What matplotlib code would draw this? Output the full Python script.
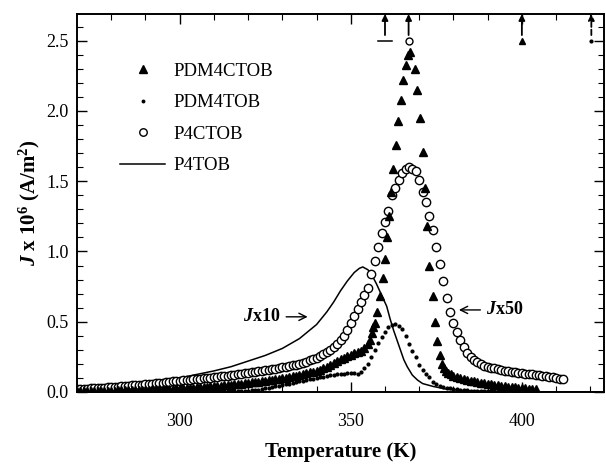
import numpy as np
import matplotlib
matplotlib.use('Agg')
import matplotlib.pyplot as plt

plt.rcParams['font.family'] = ['Liberation Serif', 'DejaVu Serif']
plt.rcParams['mathtext.fontset'] = 'custom'
plt.rcParams['mathtext.rm'] = 'Liberation Serif:bold'
plt.rcParams['mathtext.it'] = 'Liberation Serif:italic:bold'
plt.rcParams['mathtext.bf'] = 'Liberation Serif:bold'

# P4CTOB (open circles), sampled every 1 K from 270 to 412 K
t_p4ctob = np.arange(270, 413, 1.0)
j_p4ctob = [
    0.020, 0.021, 0.022, 0.024, 0.025, 0.027, 0.028, 0.030, 0.032, 0.033,
    0.035, 0.037, 0.039, 0.041, 0.043, 0.045, 0.047, 0.049, 0.051, 0.053,
    0.055, 0.057, 0.060, 0.062, 0.065, 0.067, 0.070, 0.072, 0.075, 0.077,
    0.080, 0.082, 0.085, 0.087, 0.090, 0.092, 0.095, 0.097, 0.100, 0.102,
    0.105, 0.108, 0.111, 0.114, 0.117, 0.120, 0.123, 0.126, 0.129, 0.132,
    0.135, 0.139, 0.143, 0.147, 0.151, 0.155, 0.159, 0.163, 0.167, 0.171,
    0.175, 0.180, 0.185, 0.190, 0.195, 0.200, 0.208, 0.216, 0.225, 0.235,
    0.245, 0.257, 0.270, 0.285, 0.300, 0.320, 0.340, 0.370, 0.400, 0.440,
    0.490, 0.540, 0.590, 0.640, 0.690, 0.740, 0.840, 0.930, 1.030, 1.130,
    1.210, 1.290, 1.400, 1.450, 1.510, 1.560, 1.590, 1.600, 1.590, 1.570,
    1.510, 1.420, 1.350, 1.250, 1.150, 1.030, 0.910, 0.790, 0.670, 0.570,
    0.490, 0.430, 0.370, 0.320, 0.280, 0.250, 0.225, 0.210, 0.198, 0.188,
    0.180, 0.174, 0.168, 0.163, 0.158, 0.153, 0.149, 0.145, 0.141, 0.138,
    0.135, 0.131, 0.128, 0.125, 0.121, 0.118, 0.114, 0.111, 0.107, 0.104,
    0.100, 0.096, 0.092,
]

# PDM4CTOB (filled triangles): low-T part every 1 K, peak read point by point, tail every 1 K
t_pdm4ctob_low = np.arange(270, 355, 1.0)
j_pdm4ctob_low = [
    0.005, 0.005, 0.006, 0.006, 0.007, 0.007, 0.008, 0.008, 0.009, 0.009,
    0.010, 0.010, 0.011, 0.011, 0.012, 0.012, 0.013, 0.014, 0.014, 0.015,
    0.016, 0.017, 0.018, 0.019, 0.020, 0.021, 0.022, 0.023, 0.024, 0.025,
    0.026, 0.027, 0.029, 0.030, 0.032, 0.033, 0.035, 0.036, 0.038, 0.040,
    0.042, 0.044, 0.046, 0.048, 0.050, 0.052, 0.054, 0.057, 0.059, 0.062,
    0.065, 0.068, 0.071, 0.074, 0.077, 0.080, 0.083, 0.087, 0.091, 0.095,
    0.099, 0.103, 0.107, 0.112, 0.117, 0.122, 0.127, 0.133, 0.139, 0.145,
    0.152, 0.160, 0.170, 0.180, 0.190, 0.205, 0.220, 0.235, 0.245, 0.255,
    0.265, 0.275, 0.285, 0.295, 0.310,
]
t_pdm4ctob_peak = [355.0, 355.6, 356.1, 356.6, 357.1, 357.7, 358.5, 359.3, 360.0,
                   360.7, 361.2, 361.9, 362.4, 363.2, 363.9, 364.6, 365.3, 366.1,
                   366.8, 367.3, 368.8, 369.5, 370.3, 371.0, 371.8, 372.4, 373.0,
                   373.9, 374.6, 375.2, 376.2, 376.7, 377.2, 377.8, 378.5, 379.2,
                   380.0]
j_pdm4ctob_peak = [0.34, 0.37, 0.42, 0.46, 0.49, 0.57, 0.68, 0.81, 0.95,
                   1.10, 1.25, 1.42, 1.59, 1.76, 1.93, 2.08, 2.22, 2.33,
                   2.40, 2.42, 2.30, 2.15, 1.95, 1.71, 1.45, 1.18, 0.90,
                   0.68, 0.50, 0.36, 0.26, 0.20, 0.17, 0.15, 0.135, 0.125,
                   0.115]
t_pdm4ctob_tail = np.arange(381, 405, 1.0)
j_pdm4ctob_tail = [
    0.108, 0.100, 0.093, 0.087, 0.081, 0.076, 0.071, 0.066, 0.062, 0.058,
    0.055, 0.051, 0.048, 0.045, 0.042, 0.039, 0.036, 0.034, 0.031, 0.029,
    0.026, 0.024, 0.021, 0.018,
]

# PDM4TOB (small dots), every 1 K from 270 to 395 K
t_pdm4tob = np.arange(270, 396, 1.0)
j_pdm4tob = [
    0.001, 0.001, 0.001, 0.001, 0.001, 0.002, 0.002, 0.002, 0.002, 0.002,
    0.002, 0.003, 0.003, 0.003, 0.003, 0.003, 0.004, 0.004, 0.004, 0.004,
    0.004, 0.005, 0.005, 0.005, 0.005, 0.006, 0.006, 0.006, 0.006, 0.007,
    0.007, 0.007, 0.007, 0.008, 0.008, 0.008, 0.008, 0.009, 0.009, 0.009,
    0.009, 0.009, 0.010, 0.010, 0.010, 0.010, 0.010, 0.010, 0.010, 0.010,
    0.010, 0.012, 0.015, 0.017, 0.020, 0.025, 0.030, 0.035, 0.040, 0.045,
    0.050, 0.055, 0.060, 0.065, 0.070, 0.075, 0.080, 0.085, 0.090, 0.095,
    0.100, 0.105, 0.110, 0.115, 0.120, 0.123, 0.125, 0.128, 0.130, 0.132,
    0.135, 0.135, 0.130, 0.140, 0.170, 0.200, 0.250, 0.300, 0.350, 0.390,
    0.430, 0.465, 0.480, 0.485, 0.470, 0.450, 0.400, 0.340, 0.290, 0.250,
    0.190, 0.155, 0.125, 0.105, 0.070, 0.055, 0.045, 0.038, 0.032, 0.027,
    0.022, 0.019, 0.016, 0.014, 0.012, 0.010, 0.009, 0.008, 0.007, 0.006,
    0.005, 0.004, 0.004, 0.003, 0.003, 0.002,
]

# P4TOB (solid line)
t_p4tob = [270, 275, 280, 285, 290, 295, 300, 305, 310, 315, 320, 325, 330, 335,
           340, 343, 345, 347, 349, 351, 352.5, 353.5, 355, 356, 357.5, 359, 360.5,
           361.5, 362.5, 363.5, 364.5, 365.5, 366.5, 368, 369.5, 371, 374, 378,
           383, 390, 400, 424]
j_p4tob = [0.005, 0.01, 0.02, 0.035, 0.05, 0.075, 0.10, 0.125, 0.15, 0.18, 0.22,
           0.26, 0.31, 0.38, 0.48, 0.57, 0.64, 0.72, 0.79, 0.85, 0.88, 0.89, 0.87,
           0.84, 0.77, 0.69, 0.61, 0.52, 0.44, 0.37, 0.30, 0.23, 0.18, 0.12, 0.085,
           0.06, 0.04, 0.02, 0.01, 0.005, 0.002, 0.0]

# peak arrows at the top (series marker, temperature)
arrow_temps = [360.0, 366.9, 400.0, 420.3]
arrow_level = 2.5

fig = plt.figure(figsize=(6.06, 4.67), dpi=100)
ax = fig.add_axes([77 / 606, 75 / 467, 527 / 606, 378 / 467])

ax.plot(t_p4tob, j_p4tob, '-', color='black', lw=1.1, label='P4TOB', zorder=2)
ax.plot(t_p4ctob, j_p4ctob, 'o', mfc='white', mec='black', ms=6, mew=1.0,
        label='P4CTOB', zorder=3)
t_tri = np.concatenate([t_pdm4ctob_low, t_pdm4ctob_peak, t_pdm4ctob_tail])
j_tri = np.concatenate([j_pdm4ctob_low, j_pdm4ctob_peak, j_pdm4ctob_tail])
ax.plot(t_tri, j_tri, '^', color='black', ms=6, label='PDM4CTOB', zorder=4)
ax.plot(t_pdm4tob, j_pdm4tob, '.', color='black', ms=4, label='PDM4TOB', zorder=4)

# markers with arrows at the top
ax.plot([arrow_temps[0] - 2.0, arrow_temps[0] + 2.0], [arrow_level] * 2, '-', color='black', lw=1.1)
ax.plot(arrow_temps[1], arrow_level, 'o', mfc='white', mec='black', ms=5, mew=1.0)
ax.plot(arrow_temps[2], arrow_level, '^', color='black', ms=5)
ax.plot(arrow_temps[3], arrow_level, '.', color='black', ms=4)
for i, t in enumerate(arrow_temps):
    ls = '-' if i < 3 else (0, (3, 1.5))
    ax.annotate('', xy=(t, 2.69), xytext=(t, 2.54),
                arrowprops=dict(arrowstyle='-|>', color='black', lw=1.3, ls=ls,
                                mutation_scale=9, shrinkA=0, shrinkB=0))

ax.annotate(r'$J$x10', xy=(337.4, 0.535), xytext=(329.5, 0.535), fontsize=13,
            fontweight='bold', ha='right', va='center',
            arrowprops=dict(arrowstyle='->', color='black', lw=1.0, shrinkA=2, shrinkB=0))
ax.annotate(r'$J$x50', xy=(381.6, 0.584), xytext=(389.5, 0.584), fontsize=13,
            fontweight='bold', ha='left', va='center',
            arrowprops=dict(arrowstyle='->', color='black', lw=1.0, shrinkA=2, shrinkB=0))

ax.set_xlim(270, 424)
ax.set_ylim(0, 2.69)
ax.set_xticks([300, 350, 400])
ax.set_xticks(np.arange(280, 425, 10), minor=True)
ax.set_yticks([0.0, 0.5, 1.0, 1.5, 2.0, 2.5])
ax.set_yticks(np.arange(0, 2.7, 0.1), minor=True)
ax.set_yticklabels(['0.0', '0.5', '1.0', '1.5', '2.0', '2.5'])
ax.tick_params(which='both', direction='in', top=True, right=True, labelsize=13)
ax.tick_params(which='major', length=7, width=1.0)
ax.tick_params(axis='x', which='major', pad=15)
ax.tick_params(axis='y', which='major', pad=6)
ax.tick_params(which='minor', length=4, width=0.8)
for s in ax.spines.values():
    s.set_linewidth(1.4)

ax.set_xlabel('Temperature (K)', fontsize=15, fontweight='bold', labelpad=9)
ax.set_ylabel(r'$J$ x 10$^{6}$ (A/m$^{2}$)', fontsize=15, fontweight='bold', labelpad=3)

handles, labels = ax.get_legend_handles_labels()
order = [2, 3, 1, 0]
ax.legend([handles[i] for i in order], [labels[i] for i in order], loc='upper left',
          bbox_to_anchor=(43 / 527, 0.872), frameon=False, fontsize=13.5,
          handlelength=2.4, handletextpad=0.45, labelspacing=0.77,
          borderpad=0, borderaxespad=0, numpoints=1, markerscale=0.9)

fig.savefig('out.png', dpi=100)
